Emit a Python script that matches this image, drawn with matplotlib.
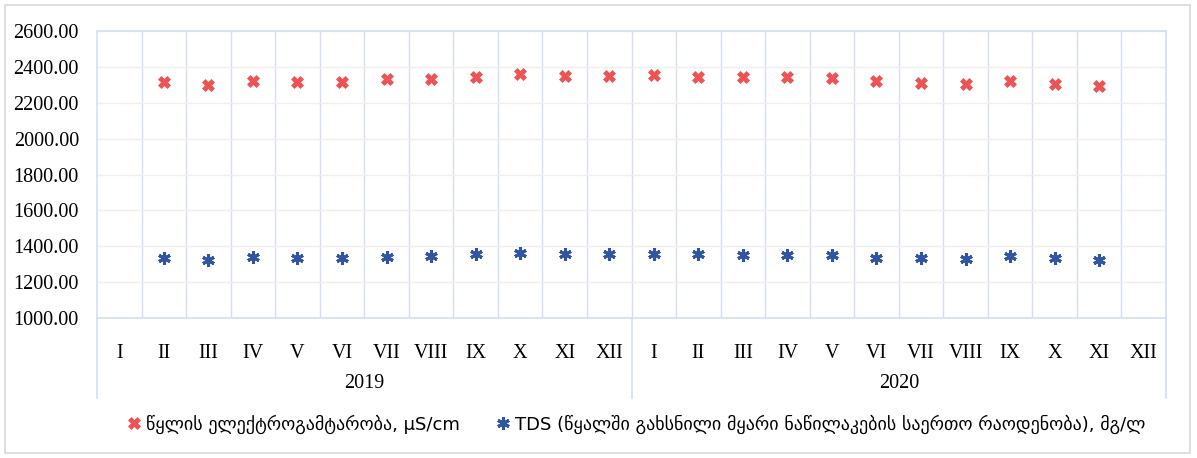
import matplotlib

matplotlib.use("Agg")
import matplotlib.pyplot as plt
import matplotlib.patches as mpatches
import numpy as np

months = ["I", "II", "III", "IV", "V", "VI", "VII", "VIII", "IX", "X", "XI", "XII"]
years = ["2019", "2020"]

# nan = no measurement
conductivity = [
    np.nan, 2318, 2298, 2322, 2317, 2317, 2333, 2331, 2345, 2359, 2351, 2351,
    2353, 2345, 2345, 2345, 2338, 2323, 2312, 2303, 2323, 2305, 2295, np.nan,
]
tds = [
    np.nan, 1333, 1325, 1339, 1333, 1333, 1342, 1344, 1357, 1363, 1357, 1357,
    1357, 1357, 1352, 1352, 1350, 1337, 1335, 1330, 1344, 1332, 1326, np.nan,
]
label_cond = "წყლის ელექტროგამტარობა, μS/cm"
label_tds = "TDS (წყალში გახსნილი მყარი ნაწილაკების საერთო რაოდენობა), მგ/ლ"

RED = "#EE5252"
BLUE = "#2F55A3"
AXIS_BLUE = "#D6DFF0"
GRID_GRAY = "#EFEFEF"
SERIF = "Liberation Serif"

W, H = 1197, 458
fig = plt.figure(figsize=(W / 100, H / 100), dpi=100)
fig.patches.append(
    mpatches.Rectangle((5 / W, 5 / H), 1185 / W, 448 / H, transform=fig.transFigure,
                       fill=False, edgecolor="#D9D9D9", linewidth=1.2)
)

left, right, top, bottom = 97, 1166, 31, 318
ax = fig.add_axes([left / W, (H - bottom) / H, (right - left) / W, (bottom - top) / H])

n = len(months) * len(years)
x = np.arange(n)
labels = months * len(years)

ax.plot(x, conductivity, linestyle="none", marker="X", markersize=9,
        color=RED, markeredgecolor=RED, markeredgewidth=0.5, label=label_cond, zorder=3)
ax.plot(x, tds, linestyle="none", marker=(6, 2, 0), markersize=9,
        markeredgewidth=2.2, color=BLUE, label=label_tds, zorder=3)

ax.set_xlim(-0.5, n - 0.5)
ax.set_ylim(1000, 2600)
ax.set_yticks(np.arange(1000, 2601, 200))
ax.set_yticklabels([f"{v:.2f}" for v in np.arange(1000, 2601, 200)],
                   fontfamily=SERIF, fontsize=14.5)
ax.set_xticks(x)
ax.set_xticklabels(labels, fontfamily=SERIF, fontsize=14.5)
ax.tick_params(axis="both", length=0)
ax.tick_params(axis="y", pad=13)
ax.tick_params(axis="x", pad=19)

ax.grid(axis="y", color=GRID_GRAY, linewidth=1)
for b in np.arange(0.5, n - 0.5, 1):
    ax.axvline(b, color=AXIS_BLUE, linewidth=1, zorder=1)
for s in ax.spines.values():
    s.set_color(AXIS_BLUE)
    s.set_linewidth(1.2)

# multi-level category axis: year separators below the plot
ext = -(398 - bottom) / (bottom - top)
for b in [-0.5, 11.5, n - 0.5]:
    ax.axvline(b, ymin=ext, ymax=0, color=AXIS_BLUE, linewidth=1.2, clip_on=False)
for k, yr in enumerate(years):
    ax.text(k * 12 + 5.5, -(384 - bottom) / (bottom - top), yr,
            transform=ax.get_xaxis_transform(), ha="center", va="center",
            fontfamily=SERIF, fontsize=14.5)

fig.legend(loc="center", bbox_to_anchor=(0.53, (H - 424) / H), ncol=2,
           frameon=False, handletextpad=0.05, columnspacing=1.8, handlelength=1.2,
           prop={"family": "DejaVu Sans", "size": 13})

fig.savefig("out.png", dpi=100)
